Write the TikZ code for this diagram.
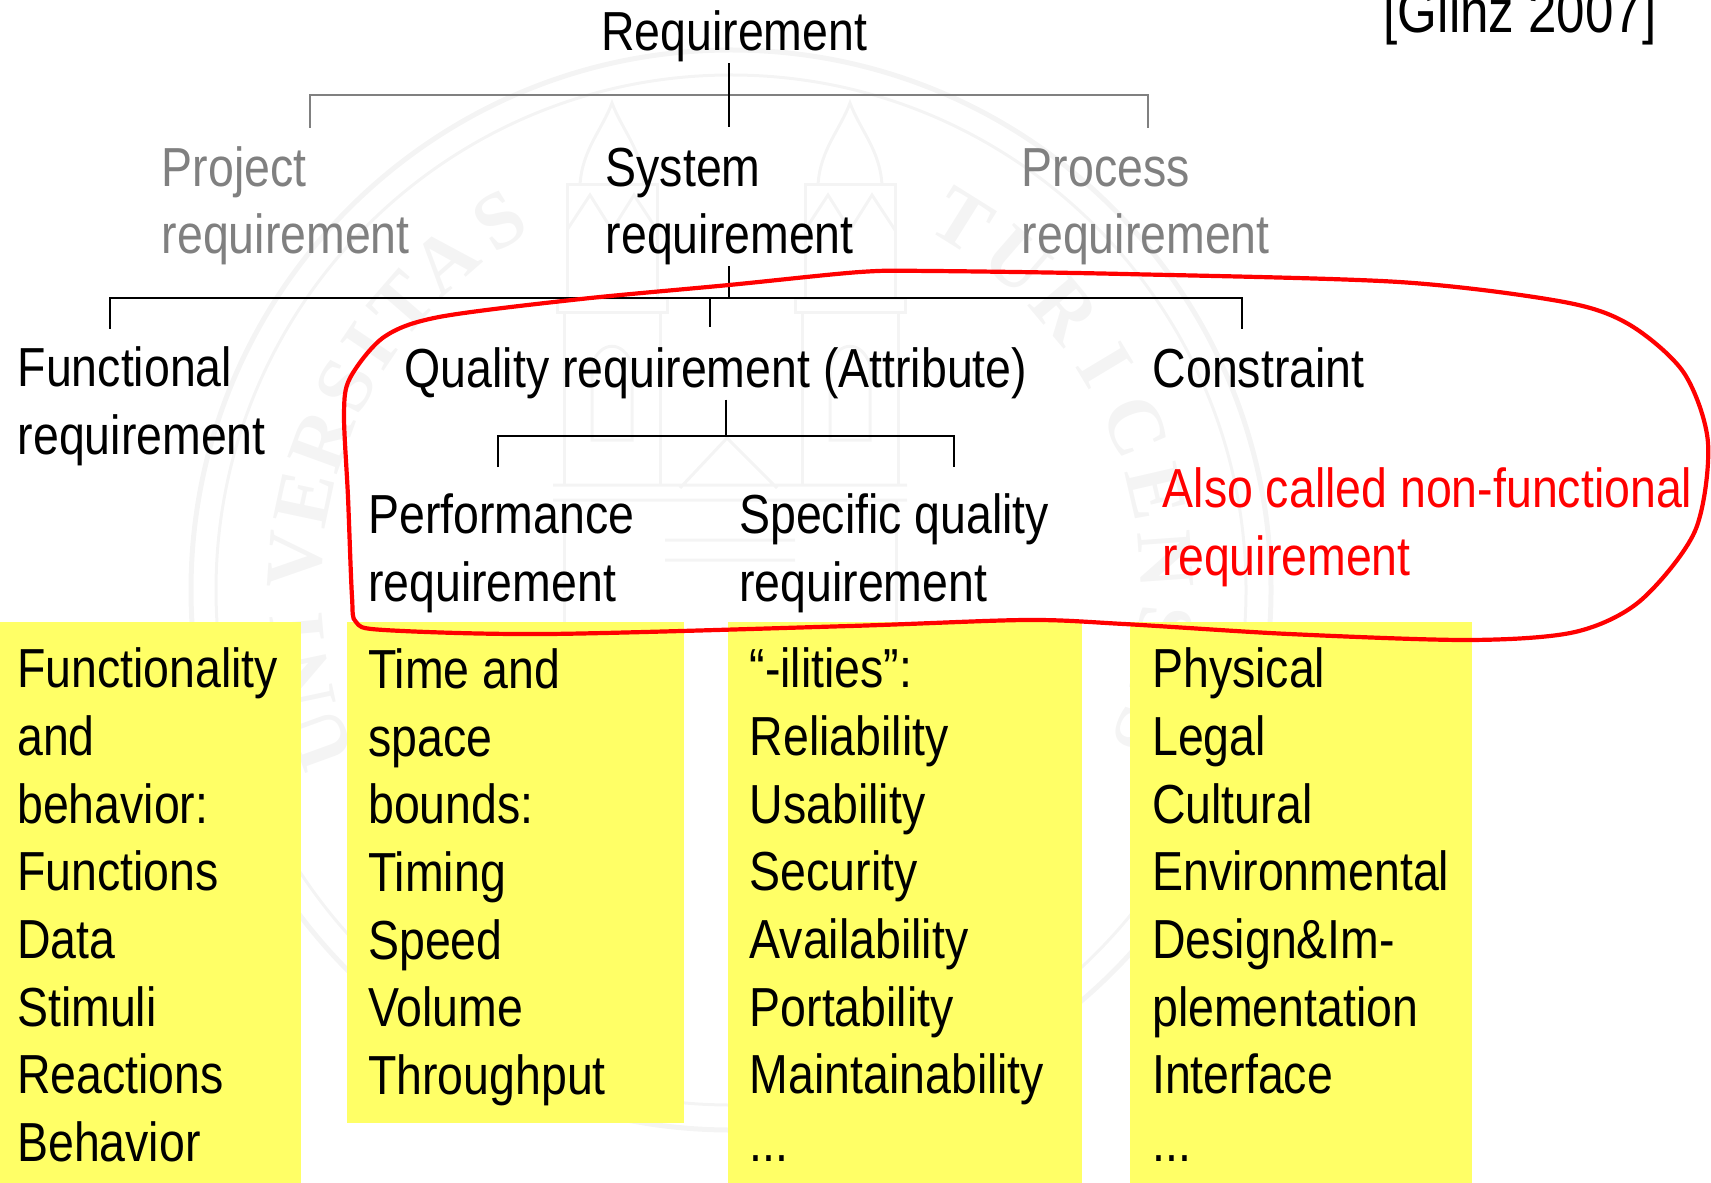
\documentclass[tikz,border=0pt]{standalone}
\usepackage{fontspec}
\setmainfont[FakeStretch=0.845]{Liberation Sans}
\newfontfamily\sealfont{Liberation Serif}
\usepackage{xcolor}
\definecolor{noteyellow}{HTML}{FFFF66}
\definecolor{branchgray}{HTML}{808080}
\definecolor{sealgray}{HTML}{F4F4F4}
\usetikzlibrary{calc}
\tikzset{
	reqtext/.style={anchor=base west,inner sep=0pt,align=left,font=\fontsize{5.5mm}{6.77mm}\selectfont},
	branch/.style={draw=black,line width=0.17mm},
	graybranch/.style={draw=branchgray,line width=0.2mm},
	sealline/.style={draw=sealgray,line width=0.3mm},
	sealletter/.style={text=sealgray,inner sep=0pt,font=\sealfont\bfseries\fontsize{8mm}{8mm}\selectfont}
}

\begin{document}
\begin{tikzpicture}[x=0.1mm,y=-0.1mm]
	\useasboundingbox (0,0) rectangle (1711,1183);
	\begin{scope}[shift={(731,590)},y=0.1mm]
		\draw[sealline,line width=0.5mm] (0,0) circle (540);
		\draw[sealline] (0,0) circle (515);
		\foreach \ch/\ang in {U/200,N/192,I/185,V/176,E/168,R/160,S/152,I/146,T/139,A/131,S/122,T/58,U/49,R/40,I/31,C/22,E/13,N/4,S/-5,I/-12,S/-19}
			\node[sealletter,rotate=\ang-90] (seal\ang) at (\ang:436) {\ch};
	\end{scope}
	\foreach \towerx in {612,850} {
		\draw[sealline] (\towerx-55,299) rectangle (\towerx+55,313);
		\draw[sealline] (\towerx-48,313) -- (\towerx-48,485) (\towerx+48,313) -- (\towerx+48,485);
		\draw[sealline] (\towerx-45,299) -- (\towerx-45,185) -- (\towerx+45,185) -- (\towerx+45,299);
		\draw[sealline] (\towerx-32,185) .. controls (\towerx-30,150) and (\towerx-10,130) .. (\towerx,103) .. controls (\towerx+10,130) and (\towerx+30,150) .. (\towerx+32,185);
		\draw[sealline] (\towerx-45,230) -- (\towerx-22,195) -- (\towerx,230) -- (\towerx+22,195) -- (\towerx+45,230);
		\draw[sealline] (\towerx-20,440) -- (\towerx-20,365) .. controls (\towerx-12,340) and (\towerx+12,340) .. (\towerx+20,365) -- (\towerx+20,440) -- cycle;
	}
	\draw[sealline] (553,485) -- (907,485) (680,488) -- (727,438) -- (777,488) (553,500) -- (907,500) (665,540) -- (795,540) (665,560) -- (795,560);
	\draw[sealline] (564,500) -- (564,622) (896,500) -- (896,622);

	\fill[noteyellow] (0,622) rectangle (301,1183);
	\fill[noteyellow] (347,622) rectangle (684,1123);
	\fill[noteyellow] (728,622) rectangle (1082,1183);
	\fill[noteyellow] (1130,622) rectangle (1472,1183);

	\node[reqtext] (req) at (600.5,51) {Requirement};
	\node[reqtext,font=\fontsize{6.05mm}{6.77mm}\selectfont] (glinz) at (1383,33) {[Glinz 2007]};
	\node[reqtext,text=branchgray] (project) at (161,254) {Project\\requirement};
	\node[reqtext] (system) at (605,254) {System\\requirement};
	\node[reqtext,text=branchgray] (process) at (1021,254) {Process\\requirement};
	\node[reqtext] (functional) at (17,454.5) {Functional\\requirement};
	\node[reqtext] (quality) at (404,387.5) {Quality requirement (Attribute)};
	\node[reqtext] (constraint) at (1152,387.5) {Constraint};
	\node[reqtext] (performance) at (367.5,601) {Performance\\requirement};
	\node[reqtext] (specific) at (738.5,601) {Specific quality\\requirement};
	\node[reqtext,text=red] (nonfunc) at (1162,575) {Also called non-functional\\requirement};

	\node[reqtext] (funcnote) at (16.5,1161.5) {Functionality\\and\\behavior:\\Functions\\Data\\Stimuli\\Reactions\\Behavior};
	\node[reqtext] (perfnote) at (367.5,1094.5) {Time and\\space\\bounds:\\Timing\\Speed\\Volume\\Throughput};
	\node[reqtext] (qualnote) at (749,1161.5) {“-ilities”:\\Reliability\\Usability\\Security\\Availability\\Portability\\Maintainability\\...};
	\node[reqtext] (consnote) at (1151.5,1161.5) {Physical\\Legal\\Cultural\\Environmental\\Design\&Im-\\plementation\\Interface\\...};

	\coordinate (projecttip) at (310,128);
	\coordinate (systemtip) at (729,127);
	\coordinate (processtip) at (1148,128);
	\coordinate (functip) at (110,329);
	\coordinate (qualitytip) at (710,327);
	\coordinate (constrainttip) at (1242,329);
	\coordinate (perftip) at (498,467);
	\coordinate (specifictip) at (954,467);

	\draw[graybranch] (projecttip) |- (710,95) -| (processtip);
	\draw[branch] (req.south -| systemtip) -- (systemtip);
	\draw[branch] (system.south -| systemtip) -- (systemtip |- 0,298);
	\draw[branch] (functip) |- (710,298) -| (constrainttip);
	\draw[branch] (qualitytip) -- (qualitytip |- 0,298);
	\draw[branch] (perftip) |- (726,436) -| (specifictip);
	\draw[branch] (quality.south -| 726,0) -- (726,436);

	\draw[red,line width=0.42mm] plot[smooth cycle,tension=0.5] coordinates {
		(344,414) (350,378) (384,337) (439,317) (581,299) (729,285) (860,272) (932,271)
		(1124,274) (1399,282) (1564,302) (1630,325) (1684,373) (1708,443) (1695,531) (1640,601)
		(1575,632) (1470,640) (1289,634) (1124,624) (1026,620) (850,626) (548,634) (384,630)
		(356,622) (352,597) (348,497)};
\end{tikzpicture}
\end{document}
